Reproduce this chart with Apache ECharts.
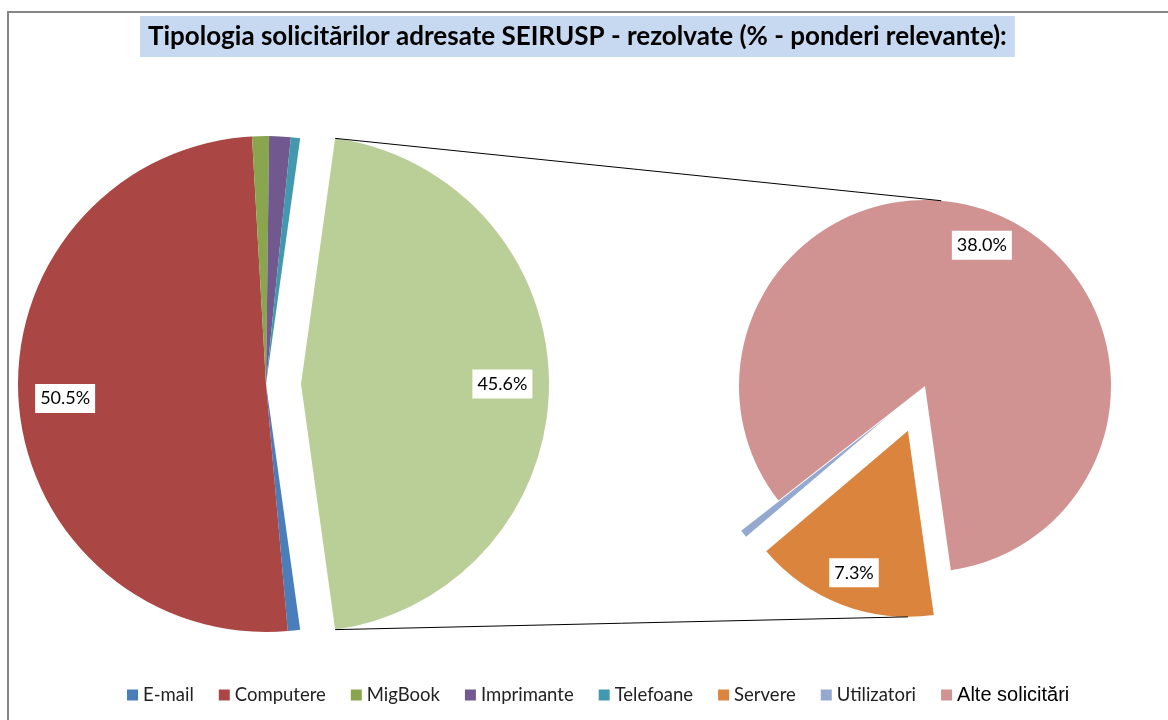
<!DOCTYPE html>
<html><head><meta charset="utf-8">
<script src="https://cdn.jsdelivr.net/npm/echarts@6/dist/echarts.min.js"></script>
<style>html,body{margin:0;padding:0;background:#fff;} #c{width:1168px;height:720px;}</style>
</head><body><div id="c"></div>
<script>
// ---- data ----
const TITLE = 'Tipologia solicitărilor adresate SEIRUSP - rezolvate (% - ponderi relevante):';
const mainNames = ['E-mail', 'Computere', 'MigBook', 'Imprimante', 'Telefoane'];
const mainValues = [0.8, 50.5, 1.1, 1.4, 0.6];
const otherName = 'Alte tipuri';
const subNames = ['Servere', 'Utilizatori', 'Alte solicitări'];
const subValues = [7.3, 0.3, 38.0];
const legendNames = ['E-mail', 'Computere', 'MigBook', 'Imprimante', 'Telefoane', 'Servere', 'Utilizatori', 'Alte solicitări'];

// ---- style ----
const mainColors = ['#4A7EBB', '#AA4643', '#89A54E', '#71588F', '#4198AF'];
const otherColor = '#BACF98';
const subColors = ['#DB843D', '#93A9CF', '#D19392'];
const FONT = 'Lato';
const L = { cx: 266, cy: 384, r: 248, explode: 35 };
const R = { cx: 925, cy: 386, r: 186, explode: 48, startAngle: -82 };
const LABEL_RATIO = 0.8;

const sum = a => a.reduce((s, v) => s + v, 0);
const otherValue = +sum(subValues).toFixed(1);
const leftVals = mainValues.concat([otherValue]);
const leftNames = mainNames.concat([otherName]);
const leftTotal = sum(leftVals);
const leftStart = -(otherValue / leftTotal * 360) / 2;

function midAngles(vals, start) {
  const tot = sum(vals); let cum = 0;
  return vals.map(v => { const m = start - (cum + v / 2) / tot * 360; cum += v; return m; });
}
const leftMid = midAngles(leftVals, leftStart);
const rightMid = midAngles(subValues, R.startAngle);

const labelStyle = {
  show: true, position: 'inside', formatter: p => p.value.toFixed(1) + '%',
  color: '#000', fontFamily: FONT, fontSize: 18, backgroundColor: '#fff', padding: [6, 5, 5, 5]
};

const leftData = leftVals.map((v, i) => ({
  name: leftNames[i], value: v,
  selected: i === leftVals.length - 1,
  itemStyle: { color: i < mainColors.length ? mainColors[i] : otherColor },
  label: { show: v > 5 }
}));
const rightData = subValues.map((v, i) => ({
  name: subNames[i], value: v,
  selected: v < 20,
  itemStyle: { color: subColors[i] },
  label: { show: v > 5 }
}));

function shiftFor(geom, mids) {
  return function (params) {
    const a = mids[params.dataIndex] * Math.PI / 180;
    const k = (LABEL_RATIO - 0.5) * geom.r;
    return { dx: k * Math.cos(a), dy: -k * Math.sin(a) };
  };
}

// connector lines derived from pie geometry
const rad = d => d * Math.PI / 180;
const gTopA = leftStart + otherValue / leftTotal * 360;
const gx = L.cx + L.explode, gy = L.cy;
const lTop = [gx + L.r * Math.cos(rad(gTopA)), gy - L.r * Math.sin(rad(gTopA))];
const lBot = [gx + L.r * Math.cos(rad(-gTopA)), gy - L.r * Math.sin(rad(-gTopA))];
const rTop = [R.cx + R.r * Math.cos(rad(85)), R.cy - R.r * Math.sin(rad(85))];
const sOff = [R.explode * Math.cos(rad(rightMid[0])), -R.explode * Math.sin(rad(rightMid[0]))];
const rBot = [R.cx + sOff[0] + R.r * Math.cos(rad(-90)), R.cy + sOff[1] - R.r * Math.sin(rad(-90))];

const chart = echarts.init(document.getElementById('c'), null, { renderer: 'canvas' });
chart.setOption({
  animation: false,
  backgroundColor: '#fff',
  title: {
    text: TITLE, left: 140, top: 16,
    backgroundColor: '#C6D9F1', padding: [8, 8, 7, 8],
    textStyle: { fontFamily: FONT, fontSize: 26, fontWeight: 'bold', color: '#000' }
  },
  legend: {
    data: legendNames.map(n => n === 'Alte solicitări'
      ? { name: n, textStyle: { fontFamily: 'Liberation Sans', fontSize: 20, color: '#000' } }
      : { name: n }),
    top: 680, left: 122, icon: 'rect', itemWidth: 11, itemHeight: 11, itemGap: 25,
    selectedMode: false,
    textStyle: { fontFamily: FONT, fontSize: 18.5, color: '#222' }
  },
  graphic: [
    { type: 'rect', z: -1, shape: { x: 8, y: 12, width: 1300, height: 900 }, style: { fill: 'none', stroke: '#868686', lineWidth: 2 } },
    { type: 'line', z: 10, shape: { x1: lTop[0], y1: lTop[1], x2: rTop[0], y2: rTop[1] }, style: { stroke: '#000', lineWidth: 1 } },
    { type: 'line', z: 10, shape: { x1: lBot[0], y1: lBot[1], x2: rBot[0], y2: rBot[1] }, style: { stroke: '#000', lineWidth: 1 } }
  ],
  series: [
    {
      type: 'pie', center: [L.cx, L.cy], radius: [0, L.r], startAngle: leftStart, clockwise: true,
      selectedMode: 'multiple', selectedOffset: L.explode, avoidLabelOverlap: false,
      emphasis: { disabled: true }, itemStyle: { borderWidth: 0 },
      label: labelStyle, labelLine: { show: false },
      labelLayout: shiftFor(L, leftMid),
      data: leftData
    },
    {
      type: 'pie', center: [R.cx, R.cy], radius: [0, R.r], startAngle: R.startAngle, clockwise: true,
      selectedMode: 'multiple', selectedOffset: R.explode, avoidLabelOverlap: false,
      emphasis: { disabled: true }, itemStyle: { borderWidth: 0 },
      label: labelStyle, labelLine: { show: false },
      labelLayout: shiftFor(R, rightMid),
      data: rightData
    }
  ]
});
</script></body></html>
